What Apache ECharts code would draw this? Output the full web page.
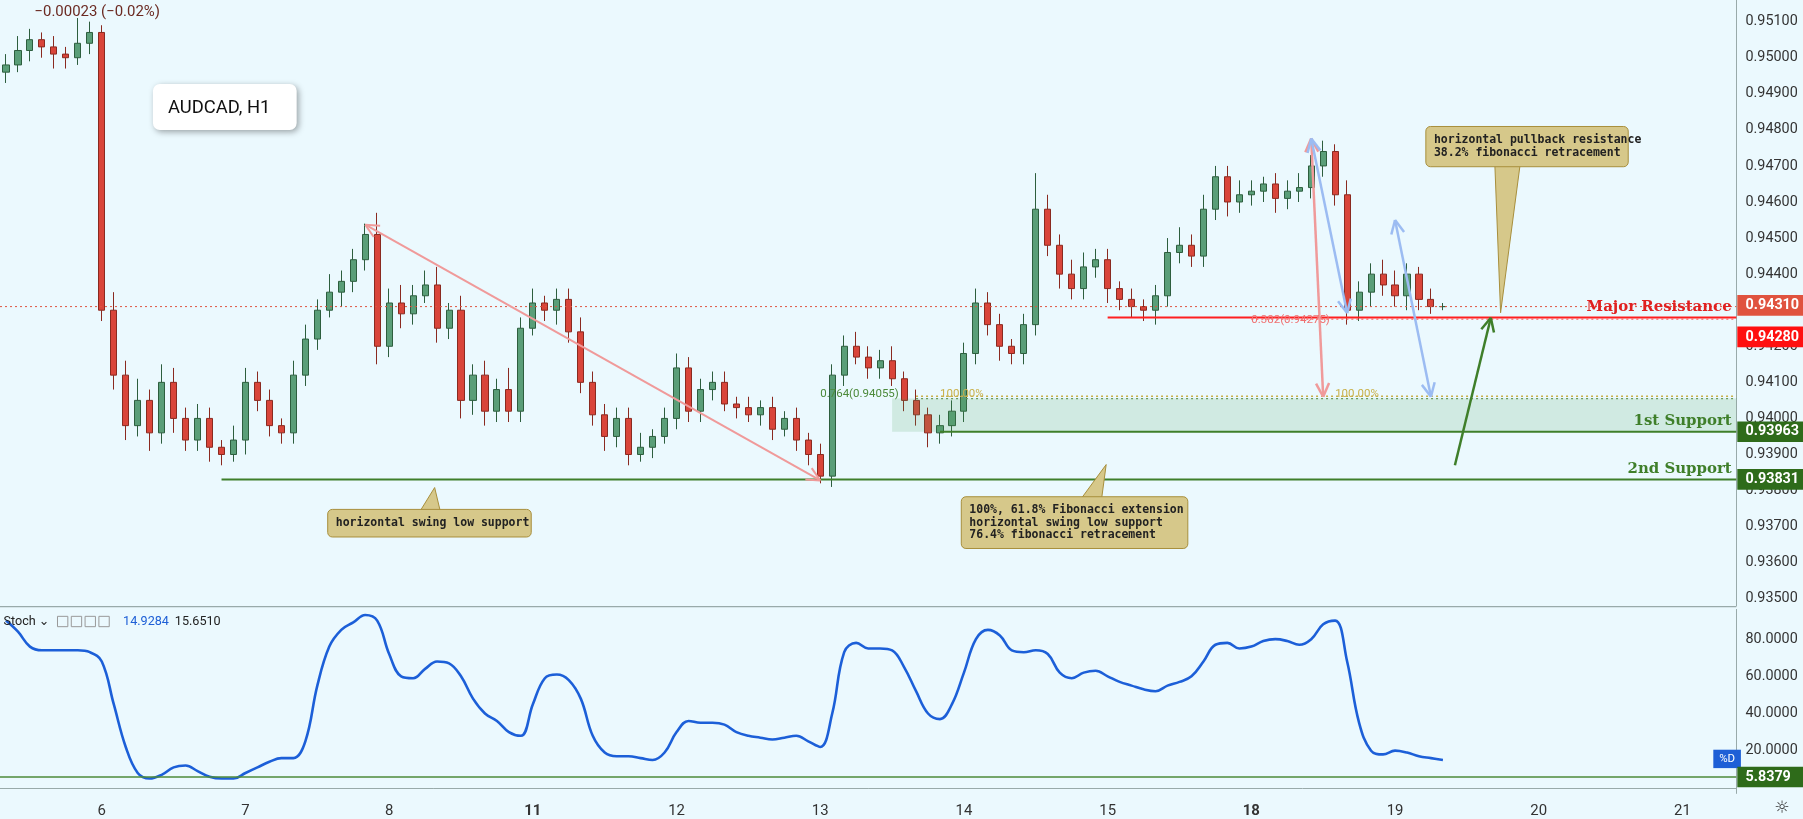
<!DOCTYPE html>
<html>
<head>
<meta charset="utf-8">
<script src="https://cdn.jsdelivr.net/npm/echarts@6/dist/echarts.min.js"></script>
<style>
  html, body { margin: 0; padding: 0; background: #ebf9fe; }
  #main { width: 1803px; height: 819px; }
</style>
</head>
<body>
<div id="main"></div>
<script>
// ---------------------------------------------------------- data (pips, /10000)
var firstOpen = 9496;
var closes = [
    9498, 9502, 9505, 9503, 9501, 9500, 9504, 9507, 9430, 9412,
    9398, 9405, 9396, 9410, 9400, 9394, 9400, 9392, 9390, 9394,
    9410, 9405, 9398, 9396, 9412, 9422, 9430, 9435, 9438, 9444,
    9451, 9420, 9432, 9429, 9434, 9437, 9425, 9430, 9405, 9412,
    9402, 9408, 9402, 9425, 9432, 9430, 9433, 9424, 9410, 9401,
    9395, 9400, 9390, 9392, 9395, 9400, 9414, 9402, 9408, 9410,
    9404, 9403, 9401, 9403, 9397, 9400, 9394, 9390, 9384, 9412,
    9420, 9417, 9414, 9416, 9411, 9405, 9401, 9396, 9398, 9402,
    9418, 9432, 9426, 9420, 9418, 9426, 9458, 9448, 9440, 9436,
    9442, 9444, 9436, 9433, 9431, 9430, 9434, 9446, 9448, 9445,
    9458, 9467, 9460, 9462, 9463, 9465, 9461, 9463, 9464, 9470,
    9474, 9462, 9430, 9435, 9440, 9437, 9434, 9440, 9433, 9431, 9431
];
var wickUp = [
    3, 4, 3, 2, 3, 2, 7, 3, 2, 5,
    4, 6, 3, 5, 4, 3, 4, 3, 2, 4,
    4, 3, 3, 2, 4, 4, 3, 5, 3, 3,
    3, 6, 4, 5, 3, 4, 5, 2, 4, 3,
    4, 3, 6, 3, 4, 2, 3, 3, 4, 3,
    3, 3, 3, 4, 2, 3, 4, 3, 3, 3,
    3, 2, 3, 2, 3, 2, 3, 2, 3, 3,
    3, 4, 3, 3, 4, 2, 3, 2, 3, 3,
    3, 4, 3, 3, 2, 3, 10, 4, 3, 4,
    4, 3, 3, 2, 3, 2, 3, 4, 5, 3,
    4, 3, 3, 4, 3, 2, 3, 3, 4, 3,
    3, 2, 4, 3, 3, 4, 4, 3, 2, 3, 1
];
var wickDn = [
    3, 2, 3, 3, 4, 3, 2, 3, 3, 4,
    4, 3, 5, 3, 4, 3, 3, 4, 3, 2,
    4, 3, 3, 3, 3, 3, 3, 2, 4, 3,
    3, 5, 3, 4, 3, 2, 4, 3, 5, 4,
    4, 3, 3, 3, 2, 3, 4, 3, 3, 3,
    4, 3, 3, 2, 3, 2, 3, 3, 3, 3,
    2, 3, 2, 3, 3, 2, 3, 3, 2, 3,
    3, 2, 3, 3, 2, 3, 3, 4, 3, 3,
    3, 3, 3, 4, 3, 3, 3, 3, 4, 3,
    3, 3, 4, 3, 3, 3, 4, 3, 3, 3,
    3, 3, 4, 3, 3, 3, 4, 3, 3, 3,
    3, 3, 4, 3, 4, 3, 3, 4, 3, 2, 1
];
var stoch = [
    90, 84, 76, 74, 74, 74, 74, 73, 68, 45,
    22, 8, 5, 7, 11, 12, 9, 6, 5, 5,
    8, 11, 14, 16, 16, 25, 55, 76, 85, 89,
    93, 90, 72, 60, 59, 64, 68, 67, 60, 48,
    40, 36, 30, 28, 45, 59, 61, 58, 48, 28,
    19, 17, 17, 16, 15, 19, 30, 36, 35, 35,
    34, 30, 28, 27, 26, 27, 28, 25, 22, 40,
    73, 78, 75, 75, 74, 65, 52, 40, 37, 45,
    62, 80, 85, 82, 74, 73, 74, 72, 62, 59,
    62, 63, 60, 57, 55, 53, 52, 55, 57, 60,
    68, 77, 78, 75, 76, 79, 80, 79, 77, 80,
    88, 90, 68, 35, 20, 18, 20, 19, 17, 16, 15
];
var dayLabels = ['6', '7', '8', '11', '12', '13', '14', '15', '18', '19', '20', '21'];
var dayStart = [8, 20, 32, 44, 56, 68, 80, 92, 104, 116, 128, 140];
var weekStarts = ['11', '18'];
var totalBars = 145;

var levels = {current: 0.94310, resistance: 0.94280, fib: 0.94055, support1: 0.93963, support2: 0.93831};
var stochLevel = 5.8379;

// ---------------------------------------------------------- build
var S = 1803 / 1568;
var categories = [];
for (var i = 0; i < totalBars; i++) categories.push('');
dayStart.forEach(function (d, k) { categories[d] = dayLabels[k]; });

var ohlc = [];
var prev = firstOpen;
closes.forEach(function (c, k) {
    var o = prev;
    ohlc.push([o / 1e4, c / 1e4, (Math.min(o, c) - wickDn[k]) / 1e4, (Math.max(o, c) + wickUp[k]) / 1e4]);
    prev = c;
});

var chart = echarts.init(document.getElementById('main'));
var font = 'Roboto, "DejaVu Sans", sans-serif';

chart.setOption({
    animation: false,
    backgroundColor: '#ebf9fe',
    grid: [
        {left: 0, top: 0, width: 1510 * S, height: 527 * S},
        {left: 0, top: 530 * S, width: 1510 * S, height: 160 * S}
    ],
    xAxis: [
        {type: 'category', gridIndex: 0, data: categories, boundaryGap: true,
            axisLine: {show: false}, axisTick: {show: false}, axisLabel: {show: false}},
        {type: 'category', gridIndex: 1, data: categories, boundaryGap: true,
            axisLine: {show: true, lineStyle: {color: '#9aa'}}, axisTick: {show: false},
            axisLabel: {
                interval: function (idx, v) { return v !== ''; },
                color: '#333', fontSize: 13 * S, fontFamily: font, margin: 9 * S,
                formatter: function (v) { return weekStarts.indexOf(v) >= 0 ? '{b|' + v + '}' : v; },
                rich: {b: {fontWeight: 'bold', fontSize: 13 * S, color: '#333'}}
            }}
    ],
    yAxis: [
        {type: 'value', gridIndex: 0, position: 'right', min: 0.9348, max: 0.9516, interval: 0.0002,
            splitLine: {show: false},
            axisLine: {show: true, lineStyle: {color: '#9aa'}},
            axisTick: {show: false},
            axisLabel: {color: '#333', fontSize: 12.5 * S, fontFamily: font, margin: 8 * S,
                formatter: function (v) {
                    var n = Math.round(v * 10000);
                    return n % 10 === 0 ? v.toFixed(5) : '';
                }}},
        {type: 'value', gridIndex: 1, position: 'right', min: -3, max: 96, interval: 1,
            splitLine: {show: false},
            axisLine: {show: true, lineStyle: {color: '#9aa'}},
            axisTick: {show: false},
            axisLabel: {color: '#333', fontSize: 12.5 * S, fontFamily: font, margin: 8 * S,
                formatter: function (v) {
                    return (v > 0 && v % 20 === 0) ? v.toFixed(4) : '';
                }}}
    ],
    series: [
        {
            type: 'candlestick', xAxisIndex: 0, yAxisIndex: 0, data: ohlc, barWidth: '55%',
            itemStyle: {color: '#5a9e78', color0: '#d9453a', borderColor: '#2d5e3e', borderColor0: '#8a2a20', borderWidth: 1}
        },
        {
            type: 'line', xAxisIndex: 1, yAxisIndex: 1, data: stoch, smooth: 0.4, symbol: 'none',
            lineStyle: {color: '#1c5fd8', width: 2.6},
            markLine: {
                silent: true, symbol: 'none', label: {show: false},
                data: [{yAxis: stochLevel, lineStyle: {color: '#4c8a3a', type: 'solid', width: 1.5}}]
            }
        }
    ]
});

// ---------------------------------------------------------- annotations
function pt(idx, price) {
    return chart.convertToPixel({xAxisIndex: 0, yAxisIndex: 0}, [idx, price]);
}
function ix(refX) { return refX / 10.41 - 0.5; }
var R = 1510 * S;
var g = [];

function seg(a, b, color, w, dash) {
    g.push({type: 'line', shape: {x1: a[0], y1: a[1], x2: b[0], y2: b[1]},
        style: {stroke: color, lineWidth: w, lineDash: dash || null}, z: 50});
}
function head(tip, from, color, w) {
    var ang = Math.atan2(from[1] - tip[1], from[0] - tip[0]), L = 13 * S, sp = 0.45;
    seg(tip, [tip[0] + L * Math.cos(ang + sp), tip[1] + L * Math.sin(ang + sp)], color, w);
    seg(tip, [tip[0] + L * Math.cos(ang - sp), tip[1] + L * Math.sin(ang - sp)], color, w);
}
function arrow(a, b, color, w, hA, hB) {
    seg(a, b, color, w);
    if (hA) head(a, b, color, w);
    if (hB) head(b, a, color, w);
}
function text(x, y, str, color, size, opts) {
    opts = opts || {};
    g.push({type: 'text', x: x, y: y, z: 80, style: {text: str, fill: color, font: (opts.weight || 'normal') + ' ' + size + 'px ' + (opts.family || font),
        align: opts.align || 'left', verticalAlign: opts.va || 'middle'}});
}
function tag(y, str, color) {
    g.push({type: 'rect', shape: {x: R + 1, y: y - 9 * S, width: 1803 - R, height: 18 * S}, style: {fill: color}, z: 70});
    text(R + 8 * S, y, str, '#fff', 12.5 * S, {weight: 'bold'});
}
function callout(box, tipPts, lines) {
    g.push({type: 'polygon', shape: {points: tipPts}, style: {fill: '#d6c88a', stroke: '#a88f3c', lineWidth: 1}, z: 55});
    g.push({type: 'rect', shape: {x: box[0], y: box[1], width: box[2], height: box[3], r: 4 * S},
        style: {fill: '#d6c88a', stroke: '#a88f3c', lineWidth: 1}, z: 56});
    g.push({type: 'text', x: box[0] + 7 * S, y: box[1] + box[3] / 2, z: 57,
        style: {text: lines.join('\n'), fill: '#222', font: 'bold ' + (10 * S) + 'px "DejaVu Sans Mono", monospace',
            verticalAlign: 'middle', lineHeight: 11 * S}});
}

var yCur = pt(0, levels.current)[1], yRes = pt(0, levels.resistance)[1], yFib = pt(0, levels.fib)[1];
var yS1 = pt(0, levels.support1)[1], yS2 = pt(0, levels.support2)[1];

// current price
seg([0, yCur], [R, yCur], '#e0533f', 1, [2, 3]);

// fib zone
var zx = pt(ix(775), 0)[0];
g.push({type: 'rect', shape: {x: zx, y: yFib, width: R - zx, height: yS1 - yFib}, style: {fill: 'rgba(76,160,90,0.17)'}, z: 5});
seg([pt(ix(795), 0)[0], yFib - 2 * S], [R, yFib - 2 * S], '#c9b04a', 1.5, [2, 3]);
seg([pt(ix(795), 0)[0], yFib], [R, yFib], '#6a9a5a', 1.2, [2, 3]);
text(pt(ix(718), 0)[0], yFib - 4 * S, '0.764(0.94055)', '#4c8a3a', 10 * S);
text(pt(ix(815), 0)[0], yFib - 4 * S, '100.00%', '#c9b04a', 10 * S);
text(pt(ix(1160), 0)[0], yFib - 4 * S, '100.00%', '#c9b04a', 10 * S);

// levels
seg([pt(ix(960), 0)[0], yRes], [R, yRes], '#ff2020', 2);
seg([pt(ix(1090), 0)[0], yRes + 1.5 * S], [R, yRes + 1.5 * S], '#ff6060', 1.2, [2, 3]);
text(pt(ix(1088), 0)[0], yRes + 2 * S, '0.382(0.94275)', '#f07070', 10 * S);
text(R - 4 * S, yRes - 9 * S, 'Major Resistance', '#e02020', 13 * S, {weight: 'bold', align: 'right', family: '"DejaVu Serif", serif'});
seg([pt(ix(820), 0)[0], yS1], [R, yS1], '#3f7f2a', 2);
text(R - 4 * S, yS1 - 9 * S, '1st Support', '#3f7f2a', 13 * S, {weight: 'bold', align: 'right', family: '"DejaVu Serif", serif'});
seg([pt(ix(190), 0)[0], yS2], [R, yS2], '#3f7f2a', 2);
text(R - 4 * S, yS2 - 9 * S, '2nd Support', '#3f7f2a', 13 * S, {weight: 'bold', align: 'right', family: '"DejaVu Serif", serif'});

// arrows
var pink = '#f09a9a', blue = '#9cbcf2';
arrow(pt(ix(320), 0.94537), pt(ix(715), 0.93828), pink, 2, true, true);
arrow(pt(ix(1142), 0.94776), pt(ix(1150), 0.94060), pink, 2.5, true, true);
arrow(pt(ix(1143), 0.94776), pt(ix(1168), 0.94292), blue, 2.5, true, true);
arrow(pt(ix(1212), 0.94550), pt(ix(1240), 0.94060), blue, 2.5, true, true);
arrow(pt(ix(1265), 0.93870), pt(ix(1292), 0.94279), '#3f7f2a', 2.5, false, true);

// price tags
tag(yCur - 1 * S, '0.94310', '#e0533f');
tag(yRes + 17 * S, '0.94280', '#ff1010');
tag(yS1, '0.93963', '#2e6b1a');
tag(yS2, '0.93831', '#2e6b1a');

// callouts
callout([285 * S, 443 * S, 177 * S, 24 * S],
    [[365 * S, 445 * S], [378 * S, 424 * S], [383 * S, 445 * S]], ['horizontal swing low support']);
callout([836 * S, 432 * S, 197 * S, 45 * S],
    [[940 * S, 434 * S], [962 * S, 404 * S], [958 * S, 434 * S]],
    ['100%, 61.8% Fibonacci extension', 'horizontal swing low support', '76.4% fibonacci retracement']);
callout([1240 * S, 110 * S, 176 * S, 35 * S],
    [[1300 * S, 143 * S], [1305 * S, 272 * S], [1322 * S, 143 * S]],
    ['horizontal pullback resistance', '38.2% fibonacci retracement']);

// title box, legends
g.push({type: 'rect', shape: {x: 133 * S, y: 73 * S, width: 125 * S, height: 40 * S, r: 6 * S},
    style: {fill: '#fff', shadowBlur: 6, shadowColor: 'rgba(0,0,0,0.35)', shadowOffsetX: 2, shadowOffsetY: 2}, z: 60});
text(146 * S, 94 * S, 'AUDCAD, H1', '#111', 16 * S);
text(30 * S, 11 * S, '\u22120.00023 (\u22120.02%)', '#6b2a22', 13 * S);
g.push({type: 'rect', shape: {x: 0, y: 527 * S, width: R, height: 1.2}, style: {fill: '#9aa'}, z: 40});
text(3 * S, 541 * S, 'Stoch \u2304', '#222', 11 * S);
text(107 * S, 541 * S, '14.9284', '#1e5fd6', 11 * S);
text(152 * S, 541 * S, '15.6510', '#222', 11 * S);
[50, 62, 74, 86].forEach(function (x) {
    g.push({type: 'rect', shape: {x: x * S, y: 536 * S, width: 9 * S, height: 9 * S}, style: {fill: 'none', stroke: '#999', lineWidth: 1}, z: 60});
});
g.push({type: 'rect', shape: {x: 1490 * S, y: 652 * S, width: 24 * S, height: 16 * S}, style: {fill: '#1e5fd6'}, z: 60});
text(1502 * S, 660 * S, '%D', '#fff', 10 * S, {align: 'center'});
var ySt = chart.convertToPixel({xAxisIndex: 1, yAxisIndex: 1}, [0, stochLevel])[1];
g.push({type: 'rect', shape: {x: R + 1, y: ySt - 9 * S, width: 1803 - R, height: 18 * S}, style: {fill: '#2e6b1a'}, z: 70});
text(R + 8 * S, ySt, stochLevel.toFixed(4), '#fff', 12.5 * S, {weight: 'bold'});
text(1550 * S, 703 * S, '\u263C', '#333', 15 * S, {align: 'center'});

chart.setOption({graphic: g});
</script>
</body>
</html>
